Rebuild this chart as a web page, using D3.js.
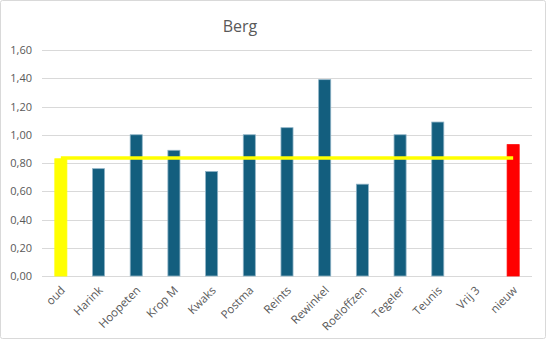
<!DOCTYPE html>
<html><head><meta charset="utf-8">
<script src="https://cdn.jsdelivr.net/npm/d3@7"></script>
<style>body{margin:0;background:#fff}svg{display:block}</style>
</head><body>
<script>
const categories = ["oud","Harink","Hoopeten","Krop M","Kwaks","Postma","Reints","Rewinkel","Roeloffzen","Tegeler","Teunis","Vrij 3","nieuw"];
const values = [0.83,0.76,1.00,0.89,0.74,1.00,1.05,1.39,0.65,1.00,1.09,null,0.93];
const lineValues = [0.835,0.835,0.835,0.835,0.835,0.835,0.835,0.835,0.835,0.835,0.835,0.835,0.835];
const yTicks = [0,0.2,0.4,0.6,0.8,1.0,1.2,1.4,1.6];
const title = "Berg";

const W=547,H=340;
const svg=d3.select("body").append("svg").attr("width",W).attr("height",H);
svg.append("rect").attr("x",0.5).attr("y",0.5).attr("width",W-2).attr("height",H-2).attr("rx",2)
  .attr("fill","#fff").attr("stroke","#d9d9d9").attr("stroke-width",1);

const x=d3.scaleBand().domain(categories).range([42,532]).paddingInner(0.68).paddingOuter(0.34);
const y=d3.scaleLinear().domain([0,1.6]).range([276,50]);
const font="'Open Sans', 'Liberation Sans', sans-serif";

svg.append("g").selectAll("line").data(yTicks).join("line")
  .attr("x1",42).attr("x2",532).attr("y1",d=>Math.round(y(d))+0.5).attr("y2",d=>Math.round(y(d))+0.5)
  .attr("stroke","#d9d9d9").attr("stroke-width",1);

const yAxis=d3.axisLeft(y).tickValues(yTicks).tickSize(0).tickPadding(0)
  .tickFormat(d=>d.toFixed(2).replace(".",","));
const gy=svg.append("g").attr("transform","translate(32,0)").call(yAxis);
gy.select(".domain").remove();
gy.selectAll("text").attr("font-family",font).attr("font-size",11).attr("fill","#595959");

const colorFor=(c)=>c==="oud"?"#ffff00":(c==="nieuw"?"#ff0000":"#135e7e");
const strokeFor=(c)=>c==="oud"?"#ffff00":(c==="nieuw"?"#ff0000":"#8fb3c6");
svg.append("g").selectAll("rect").data(categories.map((c,i)=>({c,v:values[i]})).filter(d=>d.v!=null)).join("rect")
  .attr("x",d=>x(d.c)).attr("width",x.bandwidth())
  .attr("y",d=>y(d.v)).attr("height",d=>y(0)-y(d.v))
  .attr("fill",d=>colorFor(d.c)).attr("stroke",d=>strokeFor(d.c)).attr("stroke-width",0.8);

const line=d3.line().x((d,i)=>x(categories[i])+x.bandwidth()/2).y(d=>y(d));
svg.append("path").datum(lineValues).attr("d",line).attr("fill","none")
  .attr("stroke","#ffff00").attr("stroke-width",3.5);

const xAxis=d3.axisBottom(x).tickSize(0).tickPadding(0);
const gx=svg.append("g").attr("transform","translate(0,276)").call(xAxis);
gx.select(".domain").remove();
gx.selectAll("text").attr("font-family",font).attr("font-size",11.5).attr("fill","#595959")
  .attr("text-anchor","end").attr("dy",0)
  .attr("transform","translate(5,15) rotate(-45)");

svg.append("text").attr("x",240).attr("y",32).attr("text-anchor","middle")
  .attr("font-family",font).attr("font-size",16).attr("fill","#595959").text(title);
</script>
</body></html>
